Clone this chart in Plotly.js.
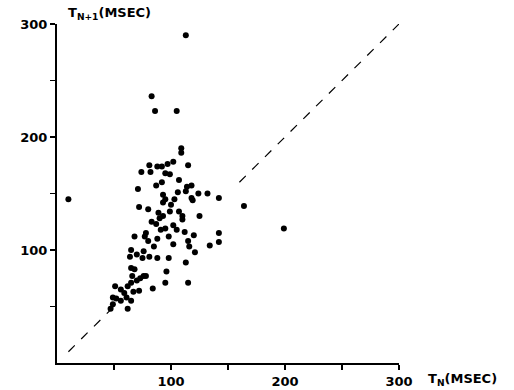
<!DOCTYPE html>
<html>
<head>
<meta charset="utf-8">
<script src="https://cdn.plot.ly/plotly-3.0.1.min.js"></script>
<style>html,body{margin:0;padding:0;background:#fff;}#chart{width:514px;height:390px;}</style>
</head>
<body>
<div id="chart"></div>
<script>
// T_n (ms) and T_{n+1} (ms)
const tn = [113, 83, 86, 105, 109, 109, 115, 81, 88, 92, 97, 102, 74, 82, 95, 99, 107, 118,
  71, 87, 92, 124, 132, 106, 113, 93, 95, 93, 103, 119, 142, 164, 72, 80, 89, 93, 99, 107, 110,
  125, 83, 87, 91, 95, 102, 105, 199, 142, 78, 112, 120, 68, 77, 88, 98, 115, 116, 142, 134, 102,
  85, 65, 64, 76, 121, 75, 88, 98, 81, 113, 65, 68, 96, 66, 70, 73, 76, 78, 65, 62, 72, 67, 84,
  95, 115, 51, 56, 59, 49, 52, 56, 61, 65, 49, 47, 62, 10, 114, 118, 110, 90, 80, 70, 100];
const tn1 = [290, 236, 223, 223, 190, 186, 175, 175, 174, 174, 176, 178, 169, 169, 168, 167, 162, 157,
  154, 157, 160, 150, 150, 151, 152, 149, 145, 142, 145, 144, 146, 139, 138, 136, 133, 130, 134, 134, 130,
  130, 125, 123, 118, 119, 122, 118, 119, 115, 115, 116, 113, 112, 112, 110, 112, 108, 103, 107, 104, 105,
  103, 100, 94, 99, 98, 93, 93, 93, 94, 89, 84, 83, 81, 77, 73, 75, 77, 77, 71, 68, 64, 63, 66,
  71, 71, 68, 65, 62, 58, 57, 55, 58, 55, 52, 48, 48, 145, 156, 146, 127, 128, 108, 96, 140];
const diagLow = [10, 52];
const diagHigh = [160, 300];
const majorTicks = [100, 200, 300];
const majorTickText = ['100', '200', '300'];
const minorTicks = [50, 150, 250];

const traces = [
  {x: diagLow, y: diagLow, mode: 'lines', line: {color: '#000', width: 1.2, dash: 'dash'}, hoverinfo: 'skip'},
  {x: diagHigh, y: diagHigh, mode: 'lines', line: {color: '#000', width: 1.2, dash: 'dash'}, hoverinfo: 'skip'},
  {x: tn, y: tn1, mode: 'markers', marker: {color: '#000', size: 6}}
];
const tickFont = {family: 'DejaVu Sans, sans-serif', size: 13, color: '#000', weight: 'bold'};
function axis() {
  return {range: [0, 300], showgrid: false, zeroline: false, showline: true, linecolor: '#000', linewidth: 2,
    ticks: 'outside', ticklen: 5, tickwidth: 1.5, tickcolor: '#000', tickmode: 'array',
    tickvals: majorTicks, ticktext: majorTickText, tickfont: tickFont,
    minor: {tickmode: 'array', tickvals: minorTicks, ticks: 'outside', ticklen: 5, tickwidth: 1.5, tickcolor: '#000', showgrid: false}};
}
const layout = {
  width: 514, height: 390,
  margin: {l: 57, r: 115, t: 24, b: 27},
  showlegend: false,
  paper_bgcolor: '#fff', plot_bgcolor: '#fff',
  font: {family: 'DejaVu Sans, sans-serif', size: 13, color: '#000'},
  xaxis: axis(),
  yaxis: axis(),
  annotations: [
    {xref: 'paper', yref: 'paper', x: 0.025, y: 1.0, xanchor: 'left', yanchor: 'bottom', showarrow: false,
      text: 'T<sub>N+1</sub>(MSEC)', font: {family: 'DejaVu Sans, sans-serif', size: 13, color: '#000', weight: 'bold'}},
    {xref: 'paper', yref: 'paper', x: 1.08, y: 0, xanchor: 'left', yanchor: 'top', yshift: -6, showarrow: false,
      text: 'T<sub>N</sub>(MSEC)', font: {family: 'DejaVu Sans, sans-serif', size: 13, color: '#000', weight: 'bold'}}
  ]
};
Plotly.newPlot('chart', traces, layout, {staticPlot: true, displayModeBar: false});
</script>
</body>
</html>
